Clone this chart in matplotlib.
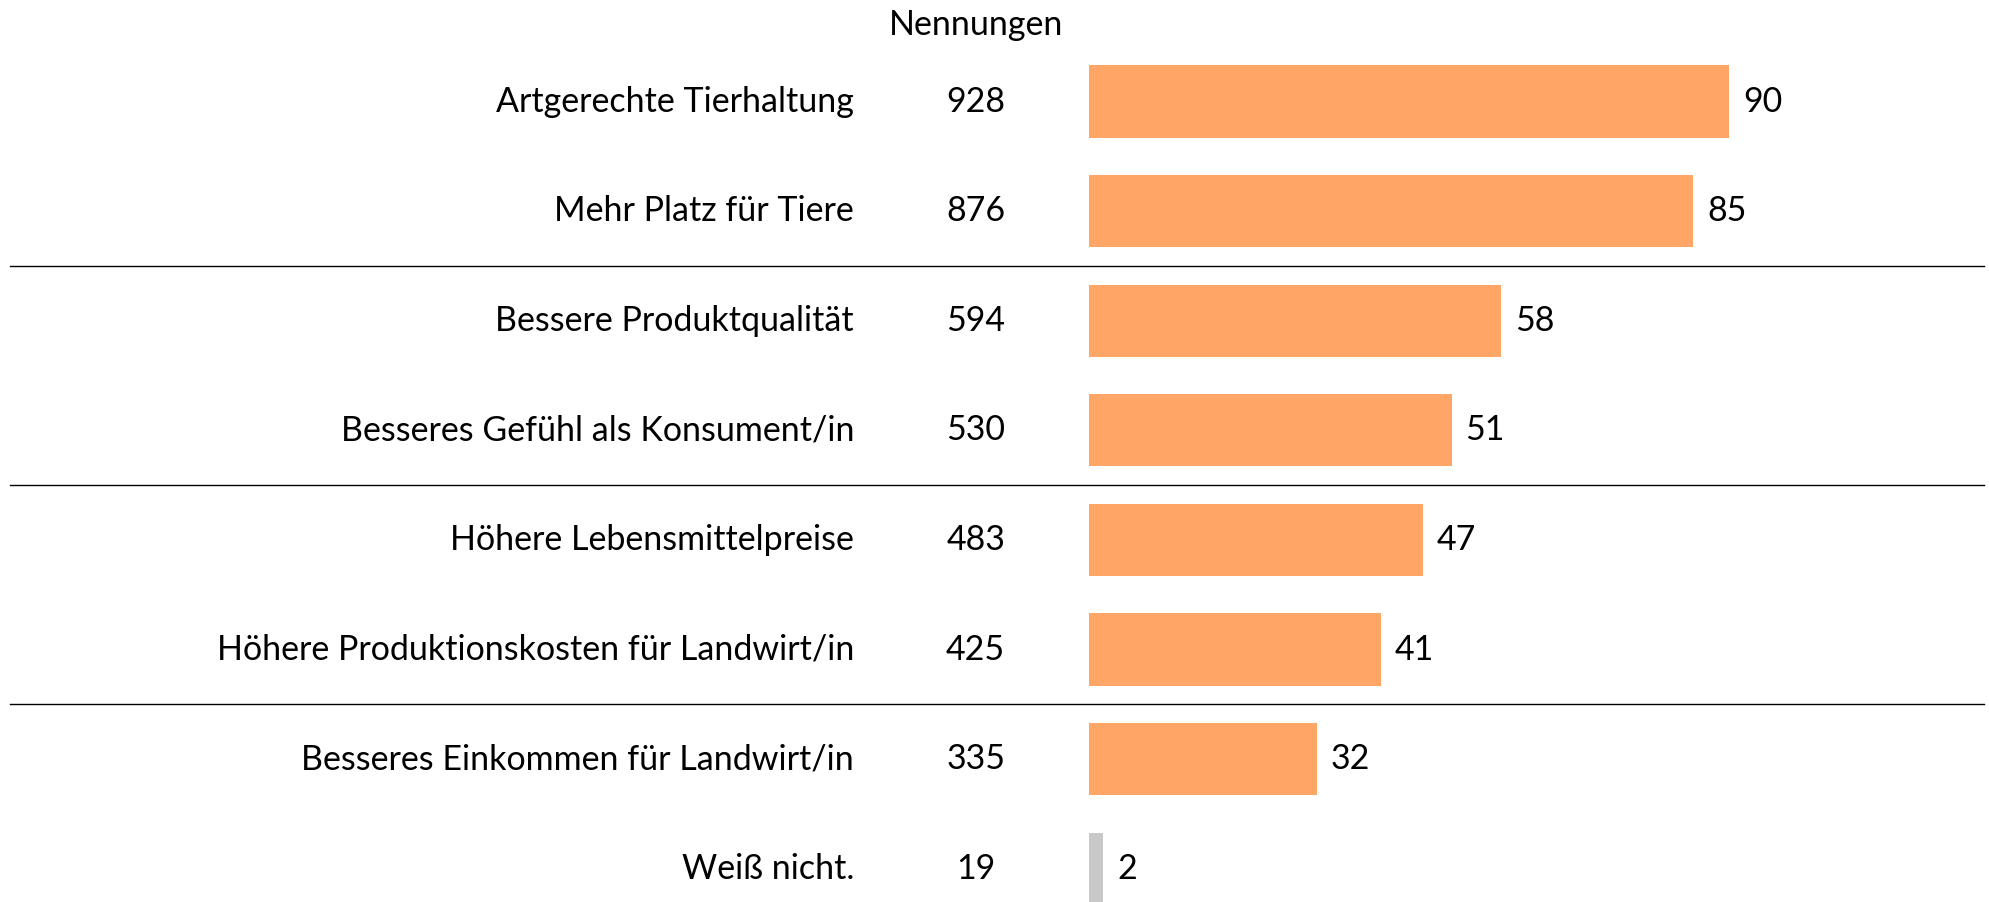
import matplotlib
matplotlib.use('Agg')
import matplotlib.pyplot as plt

# data
categories = ['Artgerechte Tierhaltung', 'Mehr Platz für Tiere', 'Bessere Produktqualität',
              'Besseres Gefühl als Konsument/in', 'Höhere Lebensmittelpreise',
              'Höhere Produktionskosten für Landwirt/in', 'Besseres Einkommen für Landwirt/in',
              'Weiß nicht.']
nennungen = [928, 876, 594, 530, 483, 425, 335, 19]
prozent = [90, 85, 58, 51, 47, 41, 32, 2]
bar_colors = ['#FFA566'] * 7 + ['#C8C8C8']

plt.rcParams['font.family'] = ['Lato', 'DejaVu Sans']
fs = 24.5

fig = plt.figure(figsize=(19.9, 9.02), dpi=100)
ax = fig.add_axes([0, 0, 1, 1])

# bars start at 1089 px, 7.11 px per unit
px = 7.11
ax.set_xlim(-1089 / px, (1990 - 1089) / px)
ax.set_ylim((902 - 101.5) / 109.6, -101.5 / 109.6)
ax.axis('off')

y = list(range(len(categories)))
ax.barh(y, prozent, height=0.66, color=bar_colors)

tr = ax.get_yaxis_transform()
for i in y:
    ax.text(0.4292, i, categories[i], transform=tr, ha='right', va='center', fontsize=fs)
    ax.text(0.4903, i, str(nennungen[i]), transform=tr, ha='center', va='center', fontsize=fs)
    ax.annotate(str(prozent[i]), (prozent[i], i), xytext=(10, 0), textcoords='offset points',
                ha='left', va='center', fontsize=fs)

ax.text(0.4904, -0.70, 'Nennungen', transform=tr, ha='center', va='center', fontsize=fs)

# separators
for s in [1.5, 3.5, 5.5]:
    ax.plot([0.005, 0.997], [s, s], transform=tr, color='black', lw=1)

fig.savefig('out.png', dpi=100)
